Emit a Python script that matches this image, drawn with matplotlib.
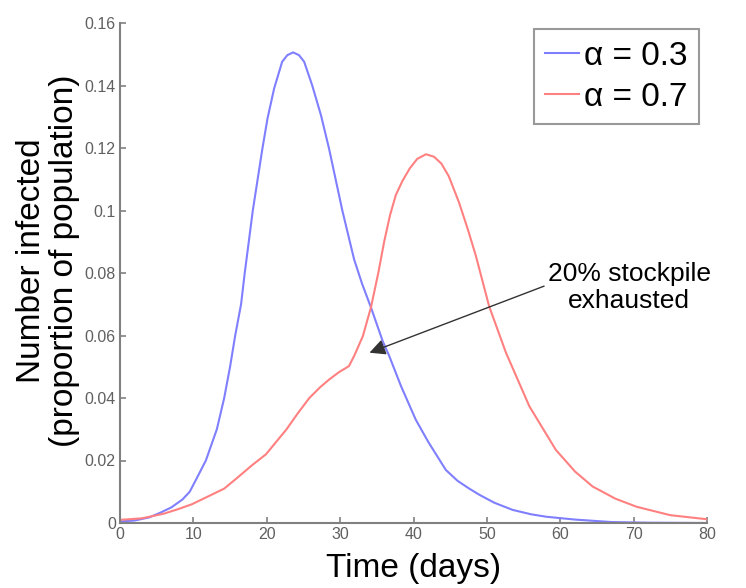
import matplotlib
matplotlib.use("Agg")
from matplotlib import pyplot as plt

plt.rcParams['font.family'] = ['Liberation Sans', 'DejaVu Sans']

# alpha = 0.3 curve
t_low = [0, 2, 4, 5.5, 7, 8.5, 9.5, 10.5, 11.7, 13.2, 14.2, 15.0, 15.7, 16.5, 17.0,
         18.1, 19.4, 20.1, 21.0, 22.1, 22.8, 23.6, 24.4, 25.1, 26.2, 27.4, 28.5,
         30.3, 31.9, 33.0, 34.2, 35.8, 36.7, 38.3, 40.3, 42.0, 44.4, 46.0, 47.6,
         49.0, 51.0, 53.5, 56.0, 58.1, 62, 67, 72, 80]
v_low = [0.0005, 0.0008, 0.0018, 0.0033, 0.005, 0.0075, 0.0100, 0.0145, 0.02, 0.03,
         0.04, 0.05, 0.06, 0.07, 0.08, 0.10, 0.1197, 0.1294, 0.139, 0.1476, 0.1497,
         0.1506, 0.1497, 0.1476, 0.140, 0.1304, 0.1197, 0.10, 0.0844, 0.0765,
         0.069, 0.0582, 0.0534, 0.0438, 0.0331, 0.026, 0.017, 0.0135, 0.011,
         0.009, 0.0065, 0.0042, 0.0028, 0.002, 0.0011, 0.0003, 0.0001, 0.0]

# alpha = 0.7 curve
t_high = [0, 3, 6, 8, 9.8, 12, 14.2, 16, 18, 19.9, 21.3, 22.7, 24.2, 25.8, 27.3,
          28.5, 29.8, 31.2, 31.9, 33.1, 34.2, 35.2, 36.0, 36.8, 37.6, 38.5, 39.5,
          40.5, 41.7, 42.8, 43.8, 44.8, 46.2, 47.4, 48.5, 50.3, 52.6, 55.8, 59.4,
          62.0, 64.4, 67.5, 70.4, 75, 80]
v_high = [0.001, 0.0015, 0.003, 0.0045, 0.006, 0.0085, 0.011, 0.0145, 0.0185, 0.022,
          0.026, 0.03, 0.035, 0.04, 0.0435, 0.0459, 0.0482, 0.0502, 0.0534, 0.0598,
          0.069, 0.08, 0.09, 0.0985, 0.105, 0.1095, 0.1135, 0.1165, 0.118, 0.1172,
          0.115, 0.111, 0.1026, 0.094, 0.0855, 0.0694, 0.0545, 0.0373, 0.0234,
          0.0165, 0.0117, 0.0078, 0.0052, 0.0025, 0.0012]

xticks = [0, 10, 20, 30, 40, 50, 60, 70, 80]
yticks = [0, 0.02, 0.04, 0.06, 0.08, 0.1, 0.12, 0.14, 0.16]
ytick_labels = ['0', '0.02', '0.04', '0.06', '0.08', '0.1', '0.12', '0.14', '0.16']

fig = plt.figure(figsize=(7.46, 5.88), dpi=100)
ax = fig.add_axes([120/746, 65/588, 587/746, 500/588])

ax.plot(t_low, v_low, color='#7f7fff', lw=1.5, label='\u03b1 = 0.3')
ax.plot(t_high, v_high, color='#ff8080', lw=1.5, label='\u03b1 = 0.7')

ax.set_xlim(0, 80)
ax.set_ylim(0, 0.16)
ax.set_xticks(xticks)
ax.set_yticks(yticks)
ax.set_yticklabels(ytick_labels)

for side in ['top', 'right']:
    ax.spines[side].set_visible(False)
for side in ['left', 'bottom']:
    ax.spines[side].set_color('#808080')
    ax.spines[side].set_linewidth(1.5)
ax.tick_params(direction='in', length=4, width=1.2, color='#808080',
               labelcolor='#606060', labelsize=11.5, pad=3)

ax.set_xlabel('Time (days)', fontsize=24, labelpad=8)
ax.set_ylabel('Number infected\n(proportion of population)', fontsize=24,
              linespacing=1.1)
ax.yaxis.set_label_coords(-0.068, 0.525)

leg = ax.legend(loc='upper right', bbox_to_anchor=(0.986, 0.988), fontsize=24,
                frameon=True, fancybox=False, borderaxespad=0, handlelength=1.0,
                handletextpad=0.15, borderpad=0.35, labelspacing=0.3)
leg.get_frame().set_edgecolor('#808080')
leg.get_frame().set_linewidth(1.5)

# annotation
ax.annotate('', xy=(34.0, 0.0545), xytext=(57.8, 0.0758),
            arrowprops=dict(arrowstyle='-|>', color='#333333', lw=1,
                            mutation_scale=24, shrinkA=0, shrinkB=0))
ax.text(69.4, 0.0753, '20% stockpile\nexhausted', fontsize=19, ha='center',
        va='center', linespacing=1.15)

plt.savefig('out.png', dpi=100)
